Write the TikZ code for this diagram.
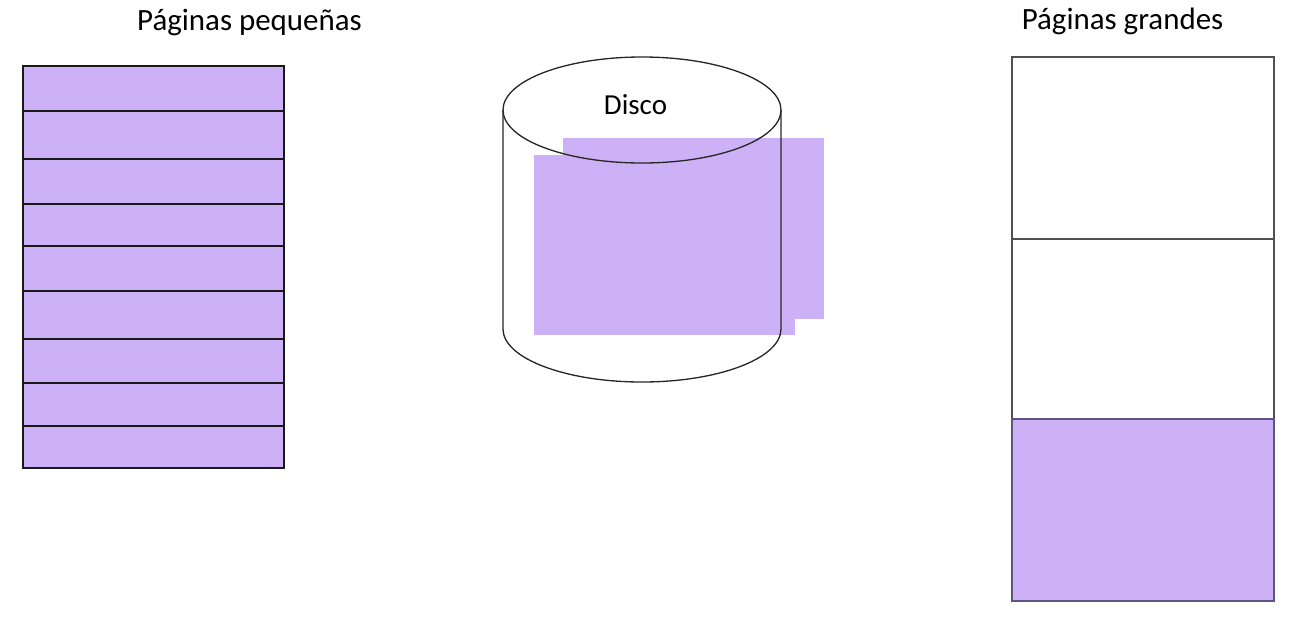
\documentclass[tikz,border=0pt]{standalone}
\usepackage{fontspec}
\setmainfont{Carlito}
\usepackage{tikz}
\usetikzlibrary{positioning}
\definecolor{PageLilac}{HTML}{CDB1F7}
\definecolor{PageEdge}{HTML}{5E5480}
\definecolor{FrameGray}{HTML}{505050}

\begin{document}
\begin{tikzpicture}[
  font=\fontsize{16.5}{20}\selectfont,
  page/.style={
    rectangle,
    inner sep=0pt,
    anchor=north west,
    line width=0.8pt
  },
  smallpage/.style={page,draw=black!90,line width=1.1pt,fill=PageLilac,minimum width=5.22cm},
  bigpage/.style={page,draw=FrameGray,line width=0.9pt,fill=white,minimum width=5.24cm},
  bigused/.style={bigpage,draw=PageEdge,fill=PageLilac},
  diskpage/.style={page,draw=none,fill=PageLilac,minimum width=5.22cm},
  diskline/.style={draw=black!85,line width=0.75pt},
  caption/.style={anchor=base,text=black,font=\fontsize{17.6}{21}\selectfont}
]
\useasboundingbox (0,0) rectangle (25.8,-12.32);

% small pages
\foreach \i/\t/\h in {1/1.30/0.90,2/2.20/0.96,3/3.16/0.90,4/4.06/0.84,
  5/4.90/0.90,6/5.80/0.96,7/6.76/0.88,8/7.64/0.86,9/8.50/0.84}
  \node[smallpage,minimum height=\h cm] (small\i) at (0.44,-\t) {};
\node[caption] (smallcap) at (4.99,-0.60) {Páginas pequeñas};

% disk
\node[diskpage,minimum height=3.62cm] (diskback) at (11.24,-2.74) {};
\node[diskpage,minimum height=3.60cm] (diskfront) at (10.66,-3.08) {};
\draw[diskline] (12.84,-2.20) ellipse [x radius=2.78cm,y radius=1.06cm];
\draw[diskline] (10.06,-2.20) -- (10.06,-6.58)
  arc[start angle=180,end angle=360,x radius=2.78cm,y radius=1.06cm]
  -- (15.62,-2.20);
\node (disklabel) at (12.71,-2.10) {Disco};

% big pages
\node[bigpage,minimum height=3.64cm] (big1) at (20.22,-1.12) {};
\node[bigpage,minimum height=3.60cm] (big2) at (20.22,-4.76) {};
\node[bigused,minimum height=3.64cm] (big3) at (20.22,-8.36) {};
\node[caption] (bigcap) at (22.45,-0.58) {Páginas grandes};
\end{tikzpicture}
\end{document}
